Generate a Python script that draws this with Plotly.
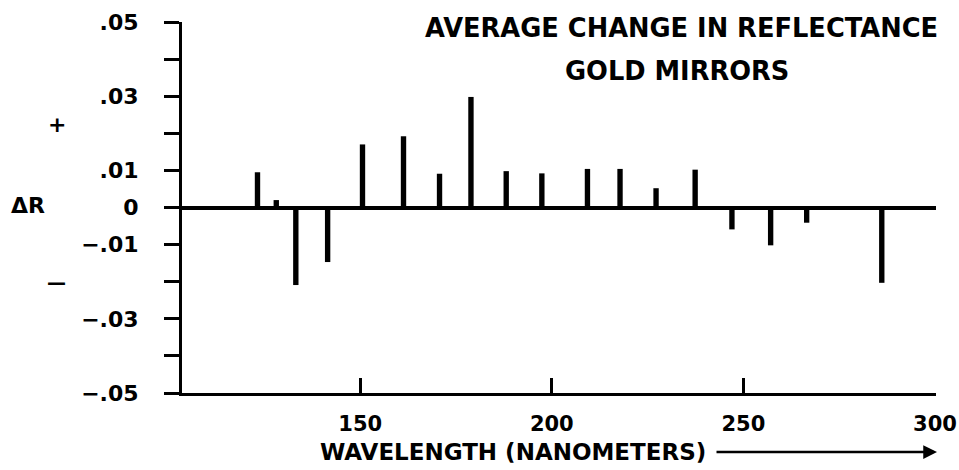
import plotly.graph_objects as go

# Data
wavelength_nm = [123.2, 128.1, 133.2, 141.5, 150.6, 161.3, 170.7, 178.9, 188.1,
                 197.4, 209.3, 217.8, 227.2, 237.4, 247.0, 257.1, 266.5, 286.1]
delta_r = [0.0095, 0.0020, -0.0209, -0.0147, 0.0170, 0.0192, 0.0091, 0.0298, 0.0098,
           0.0092, 0.0104, 0.0104, 0.0052, 0.0102, -0.0059, -0.0102, -0.0041, -0.0203]

y_tick_vals = [0.05, 0.04, 0.03, 0.02, 0.01, 0.0, -0.01, -0.02, -0.03, -0.04, -0.05]
y_tick_text = [".05", "", ".03", "", ".01", "0", "\u2212.01", "", "\u2212.03", "", "\u2212.05"]
x_tick_vals = [150, 200, 250, 300]
x_tick_text = ["150", "200", "250", "300"]

title_lines = ["AVERAGE CHANGE IN REFLECTANCE", "GOLD MIRRORS"]
x_title = "WAVELENGTH (NANOMETERS)"

FONT = "DejaVu Sans"
W, H = 959, 470
L, R, T, B = 182, 23, 22, 77
pw, ph = W - L - R, H - T - B


def px(xp):
    return (xp - L) / pw


def py(yp):
    return (H - B - yp) / ph


fig = go.Figure()
fig.add_trace(go.Bar(
    x=wavelength_nm, y=delta_r, base=0, width=1.4,
    marker=dict(color="black", line=dict(width=0)),
    showlegend=False, hoverinfo="x+y",
))

fig.update_layout(
    width=W, height=H,
    margin=dict(l=L, r=R, t=T, b=B, pad=0, autoexpand=False),
    paper_bgcolor="white", plot_bgcolor="white",
    font=dict(family=FONT, color="black", size=22, weight=700),
    xaxis=dict(
        range=[103.5, 300.25], automargin=False,
        tickmode="array", tickvals=x_tick_vals, ticktext=x_tick_text,
        ticks="inside", ticklen=15, tickwidth=2.5, tickcolor="black",
        showline=True, linecolor="black", linewidth=3,
        showgrid=False, zeroline=False,
        tickfont=dict(family=FONT, size=21, weight=700),
        ticklabelstandoff=10,
    ),
    yaxis=dict(
        range=[-0.05, 0.05], automargin=False,
        tickmode="array", tickvals=y_tick_vals, ticktext=y_tick_text,
        ticks="outside", ticklen=15, tickwidth=3, tickcolor="black",
        showline=True, linecolor="black", linewidth=3,
        showgrid=False, zeroline=True, zerolinecolor="black", zerolinewidth=3.5,
        tickfont=dict(family=FONT, size=22, weight=700),
        ticklabelstandoff=21,
    ),
    annotations=[
        dict(text=title_lines[0], x=px(681), y=py(28), xref="paper", yref="paper",
             showarrow=False, xanchor="center", yanchor="middle",
             font=dict(family=FONT, size=25.7, weight=700)),
        dict(text=title_lines[1], x=px(677), y=py(71), xref="paper", yref="paper",
             showarrow=False, xanchor="center", yanchor="middle",
             font=dict(family=FONT, size=25.7, weight=700)),
        dict(text=x_title, x=px(513), y=py(452), xref="paper", yref="paper",
             showarrow=False, xanchor="center", yanchor="middle",
             font=dict(family=FONT, size=23, weight=700)),
        dict(text="", x=px(937), y=py(452), xref="paper", yref="paper",
             showarrow=True, ax=-222, ay=0, axref="pixel", ayref="pixel",
             arrowhead=2, arrowsize=1.1, arrowwidth=2.5, arrowcolor="black",
             standoff=0, startstandoff=0),
        dict(text="+", x=px(57), y=py(125), xref="paper", yref="paper",
             showarrow=False, xanchor="center", yanchor="middle",
             font=dict(family=FONT, size=22, weight=700)),
        dict(text="\u0394R", x=px(28), y=py(205), xref="paper", yref="paper",
             showarrow=False, xanchor="center", yanchor="middle",
             font=dict(family=FONT, size=22, weight=700)),
        dict(text="\u2014", x=px(56), y=py(282), xref="paper", yref="paper",
             showarrow=False, xanchor="center", yanchor="middle",
             font=dict(family=FONT, size=19, weight=700)),
    ],
)

fig.write_html("out.html")
